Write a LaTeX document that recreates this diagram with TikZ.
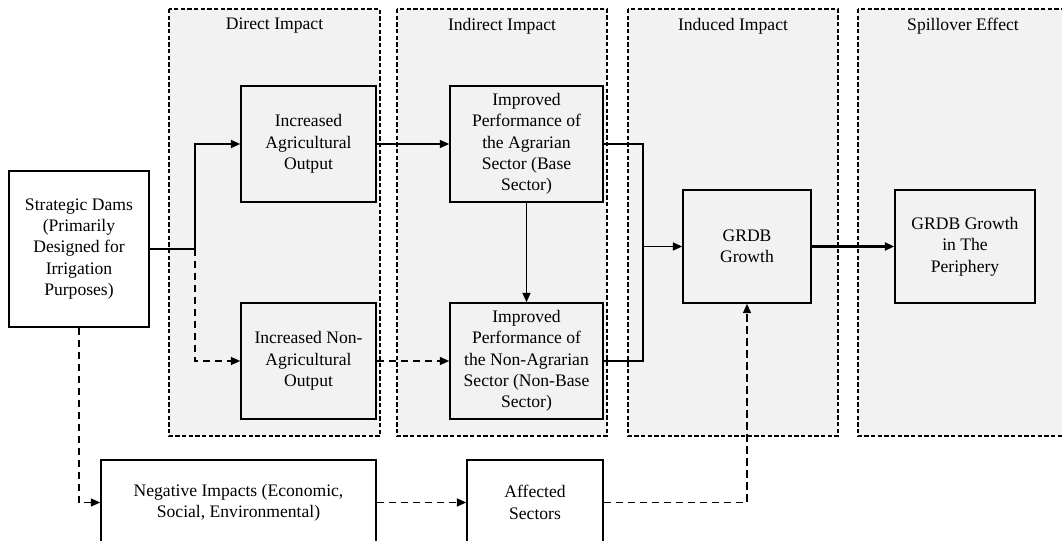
\documentclass[tikz,border=0pt]{standalone}
\usepackage{fontspec}
\setmainfont{Liberation Serif}
\usetikzlibrary{arrows.meta}
\definecolor{panelgray}{HTML}{F2F2F2}
\begin{document}
\begin{tikzpicture}[x=0.75pt,y=-0.75pt,
  font=\rmfamily\fontsize{13.2}{16}\selectfont,
  panel/.style={draw,fill=panelgray,line width=0.9pt,dash pattern=on 3.2pt off 1.8pt},
  box/.style={draw,line width=1.2pt,fill=panelgray,align=center,inner sep=1pt},
  wbox/.style={box,fill=white},
  link/.style={line width=1.1pt,-{Triangle[length=7pt,width=6pt]}},
  dlink/.style={link,dash pattern=on 5.5pt off 3.5pt}]

\useasboundingbox (0,0) rectangle (1062,541);

% panels
\draw[panel] (169,9) rectangle (380,436);
\draw[panel] (397,9) rectangle (607,436);
\draw[panel] (628,9) rectangle (838,436);
\draw[panel] (858,9) rectangle (1068,436);

\node (tdirect) at (274.5,26) {Direct Impact};
\node (tindirect) at (502,26) {Indirect Impact};
\node (tinduced) at (733,26) {Induced Impact};
\node (tspill) at (963,26) {Spillover Effect};

% boxes
\node[wbox,minimum width=105pt,minimum height=117pt] (dams) at (79,249)
  {Strategic Dams\\(Primarily\\Designed for\\Irrigation\\Purposes)};

\node[box,minimum width=101.25pt,minimum height=87pt] (agri) at (308.5,144)
  {Increased\\Agricultural\\Output};
\node[box,minimum width=101.25pt,minimum height=87pt] (nonagri) at (308.5,361)
  {Increased Non-\\Agricultural\\Output};

\node[box,minimum width=114.75pt,minimum height=87pt] (agrarian) at (526.5,144)
  {Improved\\Performance of\\the Agrarian\\Sector (Base\\Sector)};
\node[box,minimum width=114.75pt,minimum height=87pt] (nonagrarian) at (526.5,361)
  {Improved\\Performance of\\the Non-Agrarian\\Sector (Non-Base\\Sector)};

\node[box,minimum width=96pt,minimum height=84.75pt] (grdb) at (747,246.5)
  {GRDB\\Growth};
\node[box,minimum width=105pt,minimum height=84.75pt] (periph) at (965,246.5)
  {GRDB Growth\\in The\\Periphery};

\node[wbox,minimum width=206.25pt,minimum height=63.75pt] (negative) at (238.5,502.5)
  {Negative Impacts (Economic,\\Social, Environmental)};
\node[wbox,minimum width=102pt,minimum height=63.75pt] (affected) at (535,502.5)
  {Affected\\Sectors};

% connectors
\coordinate (split) at (195,249);
\coordinate (join) at (643,246.5);

\draw[line width=1.1pt] (dams.east) -- (split);
\draw[link] (split) |- (agri.west);
\draw[dlink] (split) |- (nonagri.west);

\draw[link] (agri) -- (agrarian);
\draw[dlink] (nonagri) -- (nonagrarian);
\draw[link] (agrarian) -- (nonagrarian);

\draw[line width=1.1pt] (agrarian.east) -| (join) |- (nonagrarian.east);
\draw[link] (join) -- (grdb.west);
\draw[link,line width=1.6pt] (grdb) -- (periph);

\draw[dlink] (dams.south) |- (negative.west);
\draw[dlink] (negative) -- (affected);
\draw[dlink] (affected.east) -| (grdb.south);

\end{tikzpicture}
\end{document}
